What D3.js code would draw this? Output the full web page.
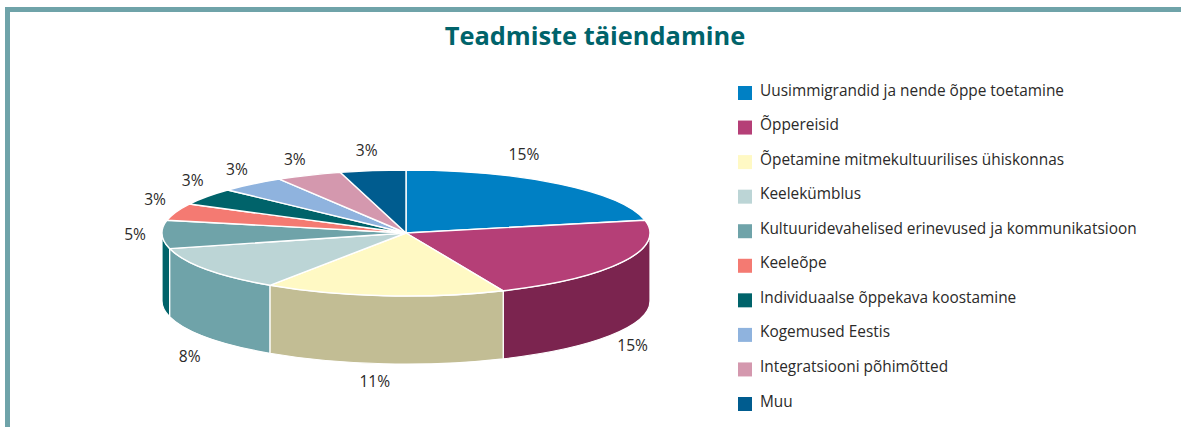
<!DOCTYPE html>
<html>
<head>
<meta charset="utf-8">
<style>
    html, body { margin: 0; padding: 0; background: #fff; }
    svg { display: block; }
    text { font-family: "Open Sans", "Noto Sans", sans-serif; fill: #2b2a29; }
    .title { font-size: 25.4px; font-weight: 700; fill: #00636a; text-anchor: middle; }
    .legend text { font-size: 15.4px; }
    .pct { font-size: 15.6px; text-anchor: middle; }
    .top path { stroke: #fff; stroke-width: 1.4px; vector-effect: non-scaling-stroke; stroke-linejoin: round; }
    .wall path { stroke: #fff; stroke-width: 1.2px; stroke-linejoin: round; }
</style>
</head>
<body>
<svg id="chart" width="1181" height="427"></svg>
<script src="https://d3js.org/d3.v7.min.js"></script>
<script>
    // data
    var categories = [
        "Uusimmigrandid ja nende õppe toetamine",
        "Õppereisid",
        "Õpetamine mitmekultuurilises ühiskonnas",
        "Keelekümblus",
        "Kultuuridevahelised erinevused ja kommunikatsioon",
        "Keeleõpe",
        "Individuaalse õppekava koostamine",
        "Kogemused Eestis",
        "Integratsiooni põhimõtted",
        "Muu"
    ];
    var values = [15, 15, 11, 8, 5, 3, 3, 3, 3, 3];
    var topColors = ["#0080c4", "#b53f77", "#fff9c4", "#bcd5d6", "#6fa3a9", "#f47a72", "#00636a", "#8fb3de", "#d498ae", "#005c8f"];
    var wallColors = ["#005c8f", "#7b244f", "#c2bd94", "#6fa3a9", "#00636a", "#b53f3f", "#004a50", "#6a8fb8", "#a87088", "#004468"];

    // layout
    var cx = 406, cy = 233, rx = 244, ry = 63, depth = 68;
    var labelNudge = [[-36, -30], [10, 15], [-9, 18], [-17, 19], [-27, 0], [-21, -13], [-14, -16], [-15, -15], [-14, -16], [-6, -20]];

    var svg = d3.select("#chart");

    // teal frame, top and left
    svg.append("rect").attr("x", 5).attr("y", 7).attr("width", 1176).attr("height", 5).attr("fill", "#6fa3a9");
    svg.append("rect").attr("x", 5).attr("y", 7).attr("width", 5).attr("height", 420).attr("fill", "#6fa3a9");

    svg.append("text").attr("class", "title").attr("x", 595).attr("y", 45).text("Teadmiste täiendamine");

    var pie = d3.pie().sort(null).value(function(d) { return d; });
    var slices = pie(values);

    function ex(a) { return cx + rx * Math.sin(a); }
    function ey(a) { return cy - ry * Math.cos(a); }

    // side walls: only the part of each slice facing the viewer
    var front0 = Math.PI / 2, front1 = Math.PI * 3 / 2;
    function wallPath(s) {
        var a0 = Math.max(s.startAngle, front0), a1 = Math.min(s.endAngle, front1);
        if (a1 <= a0) return null;
        return "M" + ex(a0) + "," + ey(a0) +
            "A" + rx + "," + ry + " 0 0 1 " + ex(a1) + "," + ey(a1) +
            "L" + ex(a1) + "," + (ey(a1) + depth) +
            "A" + rx + "," + ry + " 0 0 0 " + ex(a0) + "," + (ey(a0) + depth) + "Z";
    }

    svg.append("g").attr("class", "wall").selectAll("path")
        .data(slices.filter(wallPath))
        .enter().append("path")
        .attr("d", wallPath)
        .attr("fill", function(d) { return wallColors[d.index]; });

    // top face: circular arcs squashed into an ellipse
    var arc = d3.arc().innerRadius(0).outerRadius(rx);
    svg.append("g").attr("class", "top")
        .attr("transform", "translate(" + cx + "," + cy + ") scale(1," + (ry / rx) + ")")
        .selectAll("path")
        .data(slices)
        .enter().append("path")
        .attr("d", arc)
        .attr("fill", function(d) { return topColors[d.index]; });

    // percent labels
    svg.append("g").selectAll("text")
        .data(slices)
        .enter().append("text")
        .attr("class", "pct")
        .attr("x", function(d) { return ex((d.startAngle + d.endAngle) / 2) + labelNudge[d.index][0]; })
        .attr("y", function(d) {
            var mid = (d.startAngle + d.endAngle) / 2;
            var drop = (mid > front0 && mid < front1 && d.index < 4) ? depth : 0;
            return ey(mid) + drop + labelNudge[d.index][1];
        })
        .attr("dy", "0.36em")
        .text(function(d) { return d.value + "%"; });

    // legend
    var legendY = d3.scalePoint().domain(categories).range([93, 404]);
    var legend = svg.append("g").attr("class", "legend").selectAll("g")
        .data(categories)
        .enter().append("g")
        .attr("transform", function(d) { return "translate(738," + legendY(d) + ")"; });
    legend.append("rect")
        .attr("y", -7).attr("width", 14).attr("height", 14)
        .attr("fill", function(d, i) { return topColors[i]; });
    legend.append("text")
        .attr("x", 22).attr("y", -3).attr("dy", "0.36em")
        .text(function(d) { return d; });
</script>
</body>
</html>
